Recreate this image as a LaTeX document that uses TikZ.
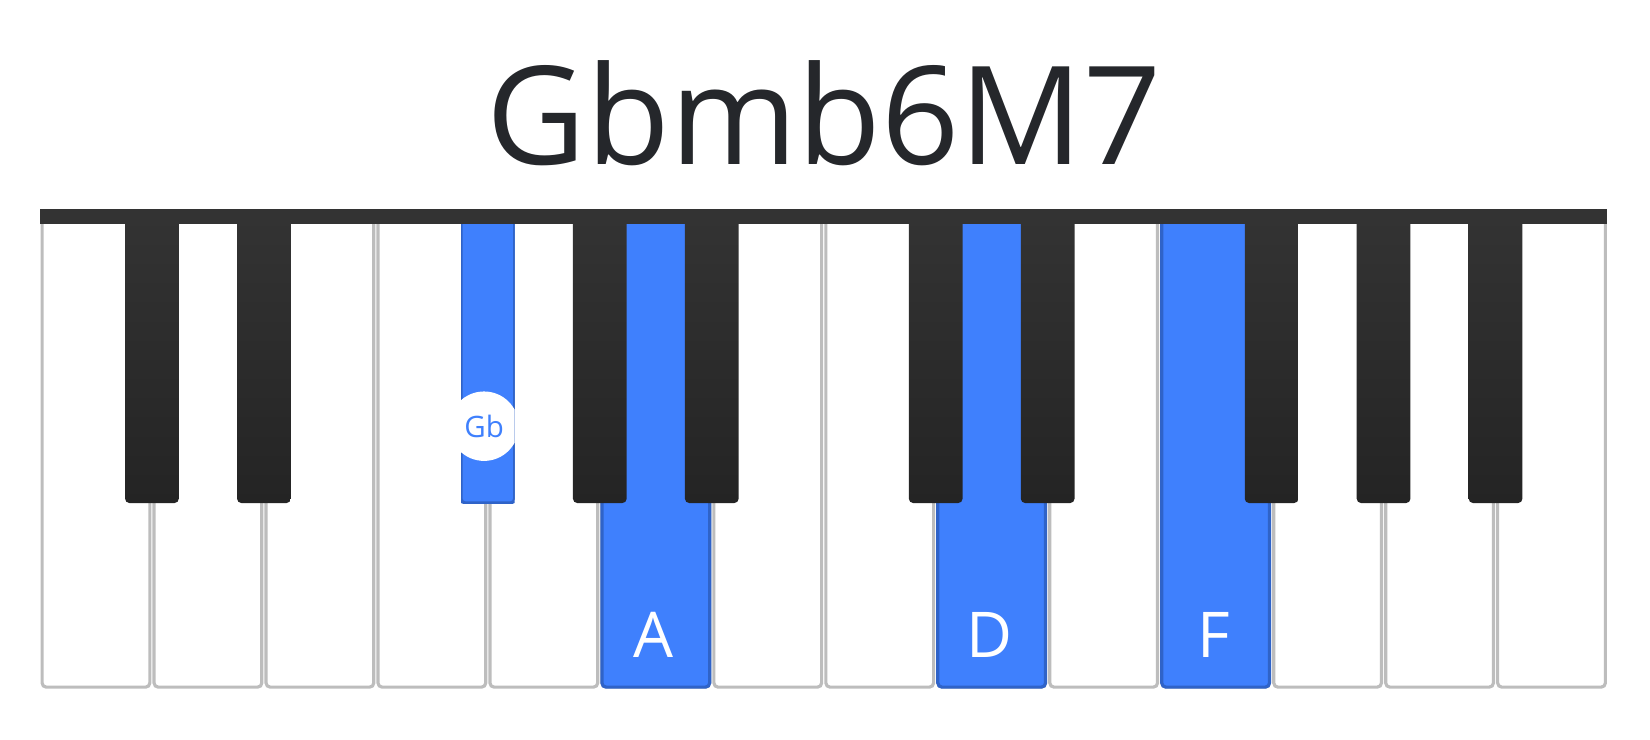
\documentclass[tikz,border=0pt]{standalone}
\usepackage{fontspec}
\setmainfont{Open Sans}
\definecolor{keyblue}{HTML}{3F80FD}
\definecolor{keyblueedge}{HTML}{2F63C8}
\definecolor{keygray}{HTML}{BDBDBD}
\definecolor{keyblack}{HTML}{242424}
\definecolor{keyblacktop}{HTML}{333333}
\definecolor{titlegray}{HTML}{25272B}
\tikzset{
  whitekey/.style={fill=white, draw=keygray, line width=3pt, rounded corners=4pt},
  bluekey/.style={fill=keyblue, draw=keyblueedge, line width=3pt, rounded corners=4pt},
  blackkey/.style={top color=keyblacktop, bottom color=keyblack, draw=none, rounded corners=4pt},
  notelabel/.style={text=white, font=\fontsize{60}{60}\selectfont}
}
\begin{document}
\begin{tikzpicture}[x=1pt, y=-1pt]
  \useasboundingbox (0,0) rectangle (1568,703);
  % white keys
  \foreach \i in {0,...,13} {
    \pgfmathsetmacro{\xl}{38+\i*106.4+2}
    \pgfmathsetmacro{\xr}{38+(\i+1)*106.4-2}
    \path[whitekey] (\xl,200) -- (\xl,653) -- (\xr,653) -- (\xr,200);
  }
  % highlighted white keys
  \foreach \i in {5,8,10} {
    \pgfmathsetmacro{\xl}{38+\i*106.4+2}
    \pgfmathsetmacro{\xr}{38+(\i+1)*106.4-2}
    \path[bluekey] (\xl,200) -- (\xl,653) -- (\xr,653) -- (\xr,200);
  }
  % black keys
  \foreach \b in {1,2,4,5,6,8,9,11,12,13} {
    \pgfmathsetmacro{\xc}{38+\b*106.4}
    \path[blackkey] (\xc-25.5,205) rectangle (\xc+25.5,478);
  }
  % highlighted black key
  \begin{scope}
    \clip (463.6-25.5,205) rectangle (463.6+25.5,478);
    \path[fill=keyblue, draw=keyblueedge, line width=3pt, rounded corners=4pt] (463.6-25.5,190) rectangle (463.6+25.5,478);
    \node[circle, fill=white, minimum size=66pt, inner sep=0pt,
      text=keyblue, font=\fontsize{28}{28}\selectfont] (gb) at (460,405) {Gb};
  \end{scope}
  % top bar
  \fill[keyblacktop] (38,199) rectangle (1527,213);
  % labels
  \node[notelabel] (a) at (621.2,603) {A};
  \node[notelabel] (d) at (940.4,603) {D};
  \node[notelabel] (f) at (1153.2,603) {F};
  \node[text=titlegray, font=\fontsize{130}{130}\selectfont] (title) at (783,108) {Gbmb6M7};
\end{tikzpicture}
\end{document}
